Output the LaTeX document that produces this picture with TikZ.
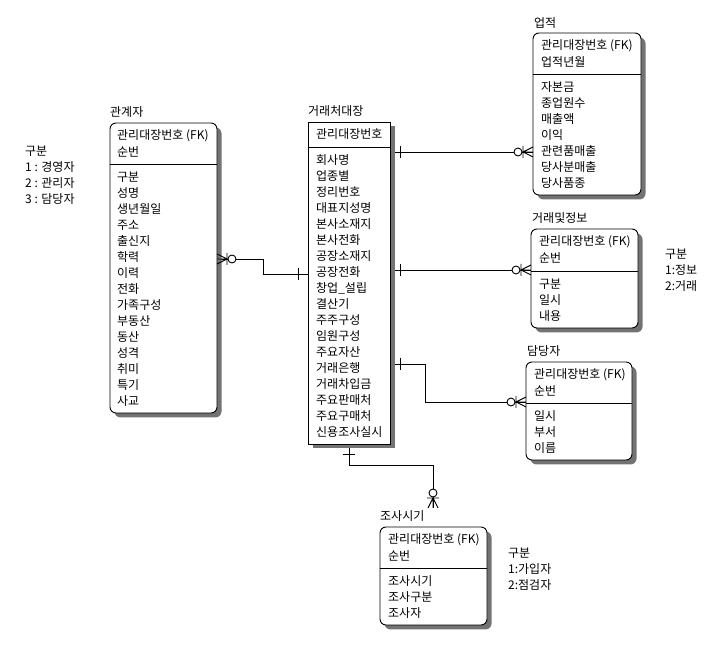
\documentclass[tikz,border=0pt]{standalone}
\usepackage{fontspec}
\setmainfont{Noto Sans CJK KR}
\usetikzlibrary{calc,shadows}
\pgfdeclarelayer{background}
\pgfsetlayers{background,main}
\begin{document}
\begin{tikzpicture}[x=1pt,y=-1pt,
  conn/.style={line width=0.9pt},
  ent/.style={draw, fill=white, line width=0.9pt, inner sep=0pt, outer sep=0pt, anchor=north west,
    drop shadow={shadow xshift=4.5pt, shadow yshift=-4.5pt, fill=black!55, opacity=1}},
  rent/.style={ent, rounded corners=6pt},
  txt/.style={anchor=west, inner sep=0pt, font=\fontsize{12}{14}\selectfont},
  zmany/.pic={\draw[conn] (0,0) -- (10,0) (0,5) -- (10,0) -- (0,-5) (10,-6) -- (10,6);
              \draw[conn, fill=white] (15,0) circle[radius=4pt];},
  onebar/.pic={\draw[conn] (10,-6) -- (10,6);}
]
\useasboundingbox (0,0) rectangle (724,668);

% ---------- entity boxes ----------
\node[rent, minimum width=107pt, minimum height=290pt] (gwan) at (110,123) {};
\node[ent,  minimum width=82pt,  minimum height=322pt] (main) at (308,122) {};
\node[rent, minimum width=108pt, minimum height=162pt] (up)   at (533,33)  {};
\node[rent, minimum width=107pt, minimum height=99pt]  (geo)  at (531,229) {};
\node[rent, minimum width=106pt, minimum height=98pt]  (dam)  at (526,362) {};
\node[rent, minimum width=107pt, minimum height=98pt]  (jo)   at (380,527) {};

% dividers
\draw[conn] (gwan.west |- 0,164) -- (gwan.east |- 0,164);
\draw[conn] (main.west |- 0,147) -- (main.east |- 0,147);
\draw[conn] (up.west |- 0,74) -- (up.east |- 0,74);
\draw[conn] (geo.west |- 0,271) -- (geo.east |- 0,271);
\draw[conn] (dam.west |- 0,403) -- (dam.east |- 0,403);
\draw[conn] (jo.west |- 0,568) -- (jo.east |- 0,568);

% ---------- titles ----------
\node[txt] (t-gwan) at (110,112) {관계자};
\node[txt] (t-main) at (308,111) {거래처대장};
\node[txt] (t-up)   at (534,23)  {업적};
\node[txt] (t-geo)  at (532,218) {거래및정보};
\node[txt] (t-dam)  at (527,351) {담당자};
\node[txt] (t-jo)   at (380,516) {조사시기};

% ---------- 관계자 ----------
\node[txt] (gwan-k1) at (117,136) {관리대장번호 (FK)};
\node[txt] (gwan-k2) at (117,152) {순번};
\foreach \t [count=\i] in {구분,성명,생년월일,주소,출신지,학력,이력,전화,가족구성,부동산,동산,성격,취미,특기,사교}
  \node[txt] (gwan-r\i) at (117,{161+16*\i}) {\t};

% ---------- 거래처대장 ----------
\node[txt] (main-k1) at (316,134) {관리대장번호};
\foreach \t [count=\i] in {회사명,업종별,정리번호,대표지성명,본사소재지,본사전화,공장소재지,공장전화,창업\_설립,결산기,주주구성,임원구성,주요자산,거래은행,거래차입금,주요판매처,주요구매처,신용조사실시}
  \node[txt] (main-r\i) at (316,{144+16*\i}) {\t};

% ---------- 업적 ----------
\node[txt] (up-k1) at (541,46) {관리대장번호 (FK)};
\node[txt] (up-k2) at (541,62) {업적년월};
\foreach \t [count=\i] in {자본금,종업원수,매출액,이익,관련품매출,당사분매출,당사품종}
  \node[txt] (up-r\i) at (541,{71+16*\i}) {\t};

% ---------- 거래및정보 ----------
\node[txt] (geo-k1) at (539,242) {관리대장번호 (FK)};
\node[txt] (geo-k2) at (539,258) {순번};
\foreach \t [count=\i] in {구분,일시,내용}
  \node[txt] (geo-r\i) at (539,{268+16*\i}) {\t};

% ---------- 담당자 ----------
\node[txt] (dam-k1) at (534,375) {관리대장번호 (FK)};
\node[txt] (dam-k2) at (534,391) {순번};
\foreach \t [count=\i] in {일시,부서,이름}
  \node[txt] (dam-r\i) at (534,{400+16*\i}) {\t};

% ---------- 조사시기 ----------
\node[txt] (jo-k1) at (388,540) {관리대장번호 (FK)};
\node[txt] (jo-k2) at (388,556) {순번};
\foreach \t [count=\i] in {조사시기,조사구분,조사자}
  \node[txt] (jo-r\i) at (388,{565+16*\i}) {\t};

% ---------- legends ----------
\node[txt] (lg1-0) at (25,151) {구분};
\node[txt] (lg1-1) at (25,167) {1 : 경영자};
\node[txt] (lg1-2) at (25,183) {2 : 관리자};
\node[txt] (lg1-3) at (25,199) {3 : 담당자};
\node[txt] (lg2-0) at (665,254) {구분};
\node[txt] (lg2-1) at (665,270) {1:정보};
\node[txt] (lg2-2) at (665,286) {2:거래};
\node[txt] (lg3-0) at (508,553) {구분};
\node[txt] (lg3-1) at (508,569) {1:가입자};
\node[txt] (lg3-2) at (508,585) {2:점검자};

% ---------- connectors ----------
\coordinate (joend) at (433,508);
\begin{pgfonlayer}{background}
\draw[conn] (main.east |- 0,152) -- (up.west |- 0,152);
\draw[conn] (main.east |- 0,270) -- (geo.west |- 0,270);
\draw[conn] (main.east |- 0,364) -- (425,364) -- (425,402) -- (dam.west |- 0,402);
\draw[conn] (main.west |- 0,274) -- (263,274) -- (263,259) -- (gwan.east |- 0,259);
\draw[conn] (main.south -| 349,0) -- (349,465) -- (433,465) -- (joend);
\end{pgfonlayer}

\pic at (main.east |- 0,152) {onebar};
\pic[rotate=180] at (up.west |- 0,152) {zmany};
\pic at (main.east |- 0,270) {onebar};
\pic[rotate=180] at (geo.west |- 0,270) {zmany};
\pic at (main.east |- 0,364) {onebar};
\pic[rotate=180] at (dam.west |- 0,402) {zmany};
\pic[rotate=180] at (main.west |- 0,274) {onebar};
\pic at (gwan.east |- 0,259) {zmany};
\pic[rotate=-90] at (main.south -| 349,0) {onebar};
\pic[rotate=90] at (joend) {zmany};
\end{tikzpicture}
\end{document}
